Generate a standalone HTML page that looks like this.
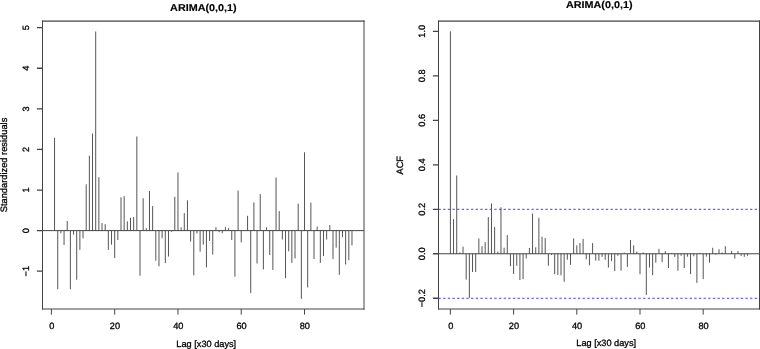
<!DOCTYPE html>
<html><head><meta charset="utf-8"><style>
html,body{margin:0;padding:0;background:#fff;}
body{width:760px;height:349px;overflow:hidden;}
svg{display:block;}
text{font-family:"Liberation Sans",sans-serif;text-rendering:geometricPrecision;font-size:9.2px;fill:#000;stroke:#000;stroke-width:0.3px;}
text.t{font-weight:bold;font-size:10.8px;fill:#000;stroke:#000;stroke-width:0.15px;}
</style></head><body>
<svg width="760" height="349" viewBox="0 0 760 349">
<defs><filter id="b" x="-5%" y="-5%" width="110%" height="110%"><feGaussianBlur stdDeviation="0.01"/></filter></defs><rect width="760" height="349" fill="#fff"/>
<g filter="url(#b)">
<path d="M54.56 230.62V137.79M57.73 230.62V289.27M60.89 230.62V233.3M64.06 230.62V245.03M67.22 230.62V221M70.38 230.62V289.27M73.55 230.62V234.68M76.71 230.62V279.73M79.88 230.62V249.86M83.04 230.62V238.33M86.2 230.62V184.35M89.37 230.62V155.73M92.53 230.62V133.49M95.7 230.62V31.49M98.86 230.62V177.16M102.02 230.62V223.03M105.19 230.62V224.13M108.35 230.62V249.86M111.52 230.62V244.62M114.68 230.62V258.02M117.84 230.62V239.96M121.01 230.62V197.34M124.17 230.62V196.16M127.34 230.62V221.41M130.5 230.62V217.71M133.66 230.62V217.02M136.83 230.62V136.49M139.99 230.62V275.67M143.16 230.62V198.27M146.32 230.62V228.18M149.48 230.62V190.96M152.65 230.62V206.1M155.81 230.62V260.74M158.98 230.62V266.34M162.14 230.62V238.33M165.3 230.62V263.09M168.47 230.62V256.6M171.63 230.62V231.84M174.8 230.62V196.77M177.96 230.62V172.45M181.12 230.62V227.37M184.29 230.62V213.09M187.45 230.62V200.3M190.62 230.62V241.58M193.78 230.62V275.27M196.94 230.62V233.46M200.11 230.62V251.73M203.27 230.62V244.62M206.44 230.62V267.35M209.6 230.62V240.93M212.76 230.62V254.57M215.93 230.62V227.21M219.09 230.62V232.24M222.26 230.62V233.3M225.42 230.62V227.21M228.58 230.62V228.18M231.75 230.62V239.96M234.91 230.62V276.69M238.08 230.62V190.56M241.24 230.62V242.39M244.4 230.62V230.62M247.57 230.62V215.8M250.73 230.62V293.13M253.9 230.62V202.37M257.06 230.62V263.5M260.22 230.62V194.09M263.39 230.62V269.42M266.55 230.62V227.37M269.72 230.62V254.97M272.88 230.62V269.99M276.04 230.62V177.57M279.21 230.62V211.1M282.37 230.62V239.55M285.54 230.62V278.11M288.7 230.62V251.32M291.86 230.62V262.89M295.03 230.62V258.51M298.19 230.62V203.59M301.36 230.62V298.81M304.52 230.62V152.28M307.68 230.62V287.45M310.85 230.62V202.61M314.01 230.62V259.03M317.18 230.62V226.56M320.34 230.62V262.89M323.5 230.62V256.07M326.67 230.62V239.55M329.83 230.62V225.1M333 230.62V259.03M336.16 230.62V247.67M339.32 230.62V274.86M342.49 230.62V237.11M345.65 230.62V264.51M348.82 230.62V260.25M351.98 230.62V245.44" stroke="#555" stroke-width="1" fill="none"/>
<path d="M42.5 230.62H364" stroke="#444" stroke-width="1"/>
<path d="M42 21.1H364.5" stroke="#444" stroke-width="1.05"/>
<path d="M42 309H364.5" stroke="#444" stroke-width="1.2"/>
<path d="M42.5 20.43V309.68M364 20.43V309.68" stroke="#444" stroke-width="1"/>
<path d="M36.9 271.21H42.5M36.9 230.62H42.5M36.9 190.03H42.5M36.9 149.44H42.5M36.9 108.85H42.5M36.9 68.26H42.5M36.9 27.67H42.5" stroke="#444" stroke-width="1.3"/>
<path d="M51.4 309V314.6M114.68 309V314.6M177.96 309V314.6M241.24 309V314.6M304.52 309V314.6" stroke="#444" stroke-width="1"/>
<text transform="translate(29.3 271.21) rotate(-90)" text-anchor="middle">−1</text>
<text transform="translate(29.3 230.62) rotate(-90)" text-anchor="middle">0</text>
<text transform="translate(29.3 190.03) rotate(-90)" text-anchor="middle">1</text>
<text transform="translate(29.3 149.44) rotate(-90)" text-anchor="middle">2</text>
<text transform="translate(29.3 108.85) rotate(-90)" text-anchor="middle">3</text>
<text transform="translate(29.3 68.26) rotate(-90)" text-anchor="middle">4</text>
<text transform="translate(29.3 27.67) rotate(-90)" text-anchor="middle">5</text>
<text x="51.7" y="329.4" text-anchor="middle">0</text>
<text x="114.98" y="329.4" text-anchor="middle">20</text>
<text x="178.26" y="329.4" text-anchor="middle">40</text>
<text x="241.54" y="329.4" text-anchor="middle">60</text>
<text x="304.82" y="329.4" text-anchor="middle">80</text>
<path d="M450.4 253.77V31.34M453.56 253.77V219.07M456.72 253.77V175.47M459.88 253.77V252.44M463.04 253.77V246.65M466.2 253.77V279.57M469.36 253.77V297.81M472.52 253.77V272.01M475.68 253.77V272.01M478.84 253.77V238.42M482 253.77V246.21M485.16 253.77V242.2M488.32 253.77V217.07M491.48 253.77V203.5M494.64 253.77V226.86M497.8 253.77V251.55M500.96 253.77V207.28M504.12 253.77V247.76M507.28 253.77V235.09M510.44 253.77V266.23M513.6 253.77V274.01M516.76 253.77V265.78M519.92 253.77V280.02M523.08 253.77V279.13M526.24 253.77V258.44M529.4 253.77V247.99M532.56 253.77V213.51M535.72 253.77V247.32M538.88 253.77V217.74M542.04 253.77V236.64M545.2 253.77V238.2M548.36 253.77V265.78M551.52 253.77V254.88M554.68 253.77V274.23M557.84 253.77V274.9M561 253.77V275.35M564.16 253.77V281.8M567.32 253.77V259.78M570.48 253.77V264.89M573.64 253.77V238.42M576.8 253.77V245.32M579.96 253.77V243.09M583.12 253.77V238.87M586.28 253.77V259.33M589.44 253.77V265.34M592.6 253.77V243.09M595.76 253.77V260.67M598.92 253.77V260.67M602.08 253.77V256.88M605.24 253.77V259.78M608.4 253.77V267.56M611.56 253.77V261.11M614.72 253.77V271.12M617.88 253.77V255.77M621.04 253.77V270.67M624.2 253.77V252.66M627.36 253.77V266.89M630.52 253.77V239.98M633.68 253.77V245.32M636.84 253.77V251.55M640 253.77V274.23M643.16 253.77V252.44M646.32 253.77V294.92M649.48 253.77V267.56M652.64 253.77V275.12M655.8 253.77V262.67M658.96 253.77V248.88M662.12 253.77V262.22M665.28 253.77V251.1M668.44 253.77V268.01M671.6 253.77V253.1M674.76 253.77V256.88M677.92 253.77V270.67M681.08 253.77V255.77M684.24 253.77V268.01M687.4 253.77V256.66M690.56 253.77V274.23M693.72 253.77V256.22M696.88 253.77V282.91M700.04 253.77V252.88M703.2 253.77V279.13M706.36 253.77V256.66M709.52 253.77V262.67M712.68 253.77V247.76M715.84 253.77V254.66M719 253.77V249.32M722.16 253.77V252.44M725.32 253.77V246.21M728.48 253.77V253.77M731.64 253.77V250.88M734.8 253.77V258.66M737.96 253.77V251.1M741.12 253.77V255.99M744.28 253.77V256.88M747.44 253.77V255.77" stroke="#555" stroke-width="1" fill="none"/>
<path d="M438.5 253.77H759.5" stroke="#444" stroke-width="1"/>
<path d="M438 21.1H760" stroke="#444" stroke-width="1.05"/>
<path d="M438 309H760" stroke="#444" stroke-width="1.2"/>
<path d="M438.5 20.43V309.68M759.5 20.43V309.68" stroke="#444" stroke-width="1"/>
<path d="M432.9 298.26H438.5M432.9 253.77H438.5M432.9 209.28H438.5M432.9 164.8H438.5M432.9 120.31H438.5M432.9 75.83H438.5M432.9 31.34H438.5" stroke="#444" stroke-width="1.3"/>
<path d="M450.4 309V314.6M513.6 309V314.6M576.8 309V314.6M640 309V314.6M703.2 309V314.6" stroke="#444" stroke-width="1"/>
<text transform="translate(425.3 298.26) rotate(-90)" text-anchor="middle">−0.2</text>
<text transform="translate(425.3 253.77) rotate(-90)" text-anchor="middle">0.0</text>
<text transform="translate(425.3 209.28) rotate(-90)" text-anchor="middle">0.2</text>
<text transform="translate(425.3 164.8) rotate(-90)" text-anchor="middle">0.4</text>
<text transform="translate(425.3 120.31) rotate(-90)" text-anchor="middle">0.6</text>
<text transform="translate(425.3 75.83) rotate(-90)" text-anchor="middle">0.8</text>
<text transform="translate(425.3 31.34) rotate(-90)" text-anchor="middle">1.0</text>
<text x="450.7" y="329.4" text-anchor="middle">0</text>
<text x="513.9" y="329.4" text-anchor="middle">20</text>
<text x="577.1" y="329.4" text-anchor="middle">40</text>
<text x="640.3" y="329.4" text-anchor="middle">60</text>
<text x="703.5" y="329.4" text-anchor="middle">80</text>
<path d="M438.5 209.3H759.5" stroke="#3c3cff" stroke-width="1" stroke-dasharray="2.33 2.32"/>
<path d="M438.5 298.25H759.5" stroke="#3c3cff" stroke-width="1" stroke-dasharray="2.33 2.32"/>

<text class="t" transform="translate(203.4 11.4) scale(1.0 0.92)" text-anchor="middle">ARIMA(0,0,1)</text>
<text class="t" transform="translate(599.2 8) scale(1.0 0.92)" text-anchor="middle">ARIMA(0,0,1)</text>
<text transform="translate(6.9 165) rotate(-90)" text-anchor="middle" style="font-size:9.3px">Standardized residuals</text>
<text transform="translate(403.3 165.3) rotate(-90)" text-anchor="middle">ACF</text>
<text x="206.25" y="347" text-anchor="middle">Lag [x30 days]</text>
<text x="606.2" y="346" text-anchor="middle">Lag [x30 days]</text>
</g>
</svg>
</body></html>
